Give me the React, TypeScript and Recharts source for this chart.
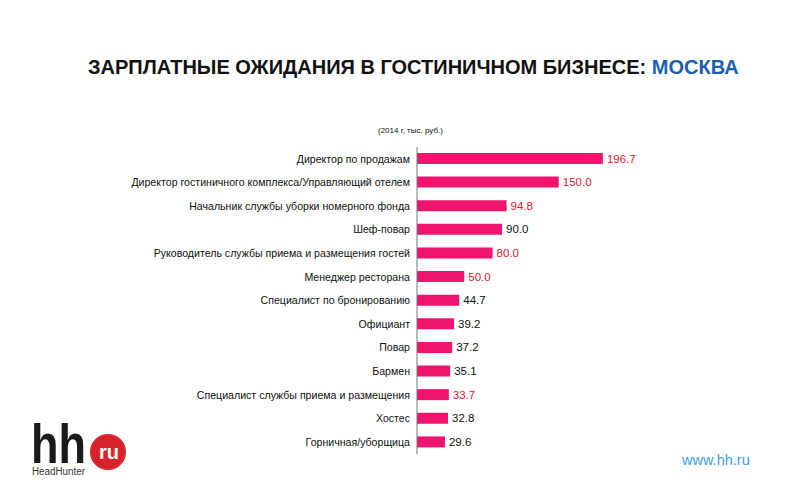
import React from "react";
import { BarChart, Bar, XAxis, YAxis, LabelList } from "recharts";

const categories = [
  "Директор по продажам",
  "Директор гостиничного комплекса/Управляющий отелем",
  "Начальник службы уборки номерного фонда",
  "Шеф-повар",
  "Руководитель службы приема и размещения гостей",
  "Менеджер ресторана",
  "Специалист по бронированию",
  "Официант",
  "Повар",
  "Бармен",
  "Специалист службы приема и размещения",
  "Хостес",
  "Горничная/уборщица",
];
const salaries = [196.7, 150.0, 94.8, 90.0, 80.0, 50.0, 44.7, 39.2, 37.2, 35.1, 33.7, 32.8, 29.6];
const highlighted = [true, true, true, false, true, true, false, false, false, false, true, false, false];

const data = categories.map((name, i) => ({
  name,
  value: salaries[i],
}));

const FONT = '"Liberation Sans", Arial, sans-serif';

const ValueLabel = (props: any) => {
  const { x, y, width, height, index, value } = props;
  const color = highlighted[index] ? "#e0202e" : "#111";
  return (
    <text
      x={x + width + 4}
      y={y + height / 2}
      dy={4}
      fontSize={11.5}
      fontFamily={FONT}
      fill={color}
    >
      {Number(value).toFixed(1)}
    </text>
  );
};

export default function App() {
  return (
    <div
      style={{
        position: "absolute",
        left: 0,
        top: 0,
        width: 800,
        height: 500,
        background: "#fff",
        fontFamily: FONT,
      }}
    >
      <div
        style={{
          position: "absolute",
          left: 88,
          top: 56,
          fontSize: 20,
          fontWeight: "bold",
          color: "#111",
          whiteSpace: "nowrap",
        }}
      >
        ЗАРПЛАТНЫЕ ОЖИДАНИЯ В ГОСТИНИЧНОМ БИЗНЕСЕ:{" "}
        <span style={{ color: "#1b5fb0" }}>МОСКВА</span>
      </div>
      <div
        style={{
          position: "absolute",
          left: 378,
          top: 126,
          fontSize: 8,
          color: "#111",
          whiteSpace: "nowrap",
        }}
      >
        (2014 г, тыс. руб.)
      </div>

      <div style={{ position: "absolute", left: 0, top: 0 }}>
        <BarChart
          width={800}
          height={500}
          data={data}
          layout="vertical"
          margin={{ top: 147, right: 194, bottom: 46, left: 0 }}
        >
          <XAxis type="number" domain={[0, 200]} hide />
          <YAxis
            type="category"
            dataKey="name"
            width={417}
            tickLine={false}
            tickSize={5}
            tickMargin={2}
            axisLine={{ stroke: "#777" }}
            tick={{ fontSize: 10.6, fill: "#111", fontFamily: FONT }}
            interval={0}
          />
          <Bar dataKey="value" fill="#f0146e" barSize={11} isAnimationActive={false}>
            <LabelList dataKey="value" content={ValueLabel} />
          </Bar>
        </BarChart>
      </div>

      <svg
        style={{ position: "absolute", left: 0, top: 410 }}
        width={140}
        height={80}
      >
        <text
          x={31}
          y={53}
          fontSize={56}
          fontWeight="bold"
          fontFamily={FONT}
          fill="#1a1a1a"
          textLength={55}
          lengthAdjust="spacingAndGlyphs"
        >
          hh
        </text>
        <circle cx={108} cy={42} r={18} fill="#d8232a" />
        <text x={109} y={49} fontSize={20} fontWeight="bold" fontFamily={FONT} fill="#fff" textAnchor="middle">
          ru
        </text>
        <text
          x={32}
          y={65}
          fontSize={10}
          fontFamily={FONT}
          fill="#333"
          textLength={53}
          lengthAdjust="spacingAndGlyphs"
        >
          HeadHunter
        </text>
      </svg>

      <div
        style={{
          position: "absolute",
          left: 682,
          top: 452,
          fontSize: 14.5,
          color: "#3aa0e8",
        }}
      >
        www.hh.ru
      </div>
    </div>
  );
}
